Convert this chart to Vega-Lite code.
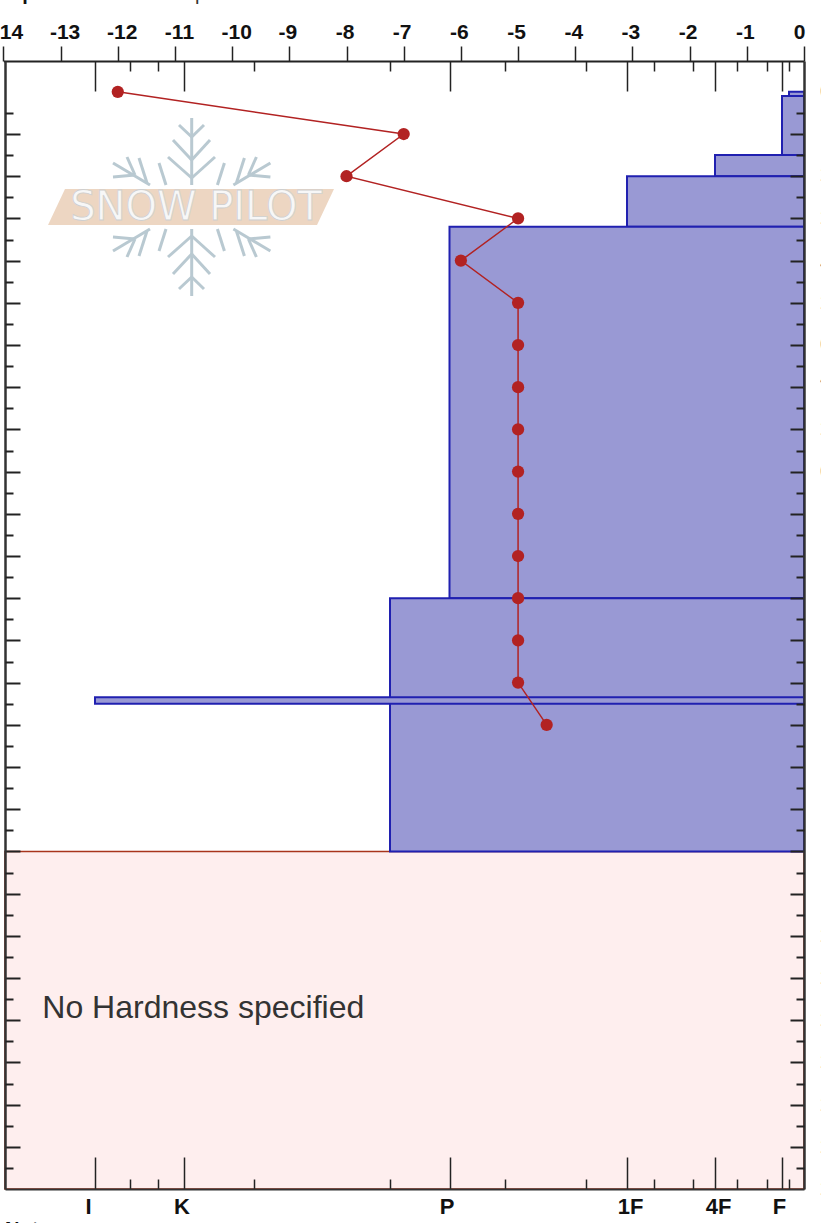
{
"$schema":"https://vega.github.io/schema/vega-lite/v6.json",
"width":799,"height":1128,
"autosize":"none",
"padding":{"left":5,"top":61,"right":17,"bottom":34},
"background":"white",
"config":{"view":{"stroke":null},"font":"Liberation Sans","axis":{"grid":false,"title":null,"labelFontSize":21,"labelFontWeight":"bold","labelFont":"Liberation Sans","labelColor":"#111","labelOverlap":false,"labelBound":false,"labelFlush":false,"tickColor":"#222","domainColor":"#333"}},
"resolve":{"scale":{"x":"independent","y":"independent"},"axis":{"x":"independent","y":"independent"}},
"datasets":{
"layers":[
{"top":260,"bottom":259,"hardness":0.67,"label":"F-"},
{"top":259,"bottom":245,"hardness":1,"label":"F"},
{"top":245,"bottom":240,"hardness":2,"label":"4F"},
{"top":240,"bottom":228,"hardness":3,"label":"1F"},
{"top":228,"bottom":140,"hardness":4,"label":"P"},
{"top":140,"bottom":80,"hardness":4.33,"label":"P+"},
{"top":116.5,"bottom":115,"hardness":6,"label":"I"}],
"temps":[
{"h":260,"t":-12},{"h":250,"t":-7},{"h":240,"t":-8},{"h":230,"t":-5},{"h":220,"t":-6},{"h":210,"t":-5},{"h":200,"t":-5},{"h":190,"t":-5},{"h":180,"t":-5},{"h":170,"t":-5},{"h":160,"t":-5},{"h":150,"t":-5},{"h":140,"t":-5},{"h":130,"t":-5},{"h":120,"t":-5},{"h":110,"t":-4.5}],
"origin":[{"c":0,"h":0,"t":0}],
"flake":[
{"u":191.7,"v":118,"u2":191.7,"v2":185},{"u":191.7,"v":137,"u2":179,"v2":125},{"u":191.7,"v":137,"u2":204,"v2":125},{"u":191.7,"v":160,"u2":173,"v2":140},{"u":191.7,"v":160,"u2":210,"v2":140},{"u":191.7,"v":178,"u2":168,"v2":157},{"u":191.7,"v":178,"u2":215,"v2":157},
{"u":191.7,"v":296,"u2":191.7,"v2":229},{"u":191.7,"v":277,"u2":179,"v2":289},{"u":191.7,"v":277,"u2":204,"v2":289},{"u":191.7,"v":254,"u2":173,"v2":274},{"u":191.7,"v":254,"u2":210,"v2":274},{"u":191.7,"v":236,"u2":168,"v2":257},{"u":191.7,"v":236,"u2":215,"v2":257},
{"u":113,"v":163,"u2":150,"v2":185},{"u":127,"v":157,"u2":135,"v2":175},{"u":113,"v":177,"u2":135,"v2":175},{"u":139,"v":158,"u2":147,"v2":183},{"u":159,"v":163,"u2":166,"v2":185},
{"u":270.4,"v":163,"u2":233.4,"v2":185},{"u":256.4,"v":157,"u2":248.4,"v2":175},{"u":270.4,"v":177,"u2":248.4,"v2":175},{"u":244.4,"v":158,"u2":236.4,"v2":183},{"u":224.4,"v":163,"u2":217.4,"v2":185},
{"u":113,"v":251,"u2":150,"v2":229},{"u":127,"v":257,"u2":135,"v2":239},{"u":113,"v":237,"u2":135,"v2":239},{"u":139,"v":256,"u2":147,"v2":231},{"u":159,"v":251,"u2":166,"v2":229},
{"u":270.4,"v":251,"u2":233.4,"v2":229},{"u":256.4,"v":257,"u2":248.4,"v2":239},{"u":270.4,"v":237,"u2":248.4,"v2":239},{"u":244.4,"v":256,"u2":236.4,"v2":231},{"u":224.4,"v":251,"u2":217.4,"v2":229}],
"edge":[
{"s":"0","h":260,"t":0.28},{"s":"2","h":240.2,"t":0.28},{"s":"2","h":230,"t":0.28},{"s":"4","h":219.5,"t":0.28},{"s":"2","h":210,"t":0.28},{"s":"0","h":200,"t":0.28},{"s":"4","h":192,"t":0.28},{"s":"2","h":180,"t":0.28},{"s":"0","h":170,"t":0.28},
{"s":"2","h":60,"t":0.28},{"s":"2","h":50,"t":0.28},{"s":"2","h":40,"t":0.28},{"s":"2","h":30,"t":0.28},{"s":"2","h":20,"t":0.28},{"s":"2","h":10,"t":0.28},{"s":"2","h":0,"t":0.28}]
},
"layer":[
{"data":{"values":[{"from":7,"to":0,"top":80,"bottom":0}]},
 "mark":{"type":"rect","fill":"#feeeee","stroke":"#a8341c","strokeWidth":1.5},
 "encoding":{
  "x":{"field":"from","type":"quantitative","scale":{"type":"linear","nice":false,"zero":false,"domain":[0,0.67,1,1.33,1.67,2,2.33,2.67,3,3.33,3.67,4,4.33,4.67,5,5.33,5.67,6,7],"range":[799,784,777,762,732,710,688,649,622,581,500,444.5,385,249,178.5,153,125,90,0]},
   "axis":{"zindex":2,"orient":"bottom","values":[0.67,1.33,1.67,2.33,2.67,3.33,3.67,4.33,4.67,5.33,5.67],"labels":false,"tickSize":-10,"tickWidth":1.5,"domain":false}},
  "x2":{"field":"to"},
  "y":{"field":"top","type":"quantitative","scale":{"domain":[0,267.3],"nice":false,"zero":false},"axis":{"zindex":2,"orient":"left","values":[10,20,30,40,50,60,70,80,90,100,110,120,130,140,150,160,170,180,190,200,210,220,230,240,250],"labels":false,"tickSize":-15,"tickWidth":2,"domainWidth":2.5}},
  "y2":{"field":"bottom"}}},
{"data":{"values":[{"s":"No Hardness specified","t":-13.32,"h":42.9}]},
 "mark":{"type":"text","align":"left","baseline":"middle","fontSize":32,"font":"Liberation Sans","color":"#333"},
 "encoding":{"x":{"field":"t","type":"quantitative","scale":{"domain":[-14,0],"range":[-1.6,799],"nice":false,"zero":false},"axis":null},"y":{"field":"h","type":"quantitative","scale":{"domain":[0,267.3],"nice":false,"zero":false},"axis":null},"text":{"field":"s"}}},
{"data":{"values":[{"u1":65,"u2":334,"v":189},{"u1":48,"u2":317,"v":225}]},
 "mark":{"type":"area","orient":"horizontal","color":"#edd6c2"},
 "encoding":{"x":{"field":"u1","type":"quantitative","scale":{"domain":[5,804],"nice":false,"zero":false},"axis":null},"x2":{"field":"u2"},"y":{"field":"v","type":"quantitative","scale":{"domain":[1189,61],"nice":false,"zero":false},"axis":null}}},
{"data":{"name":"flake"},
 "mark":{"type":"rule","color":"#b9c9d1","strokeWidth":3},
 "encoding":{"x":{"field":"u","type":"quantitative","scale":{"domain":[5,804],"nice":false,"zero":false},"axis":null},"x2":{"field":"u2"},"y":{"field":"v","type":"quantitative","scale":{"domain":[1189,61],"nice":false,"zero":false},"axis":null},"y2":{"field":"v2"}}},
{"data":{"values":[{"s":"SNOW PILOT","u":196,"v":208}]},
 "mark":{"type":"text","align":"center","baseline":"middle","fontSize":40,"font":"DejaVu Sans","fill":"#f7f7f7","stroke":"#cfcfcf","strokeWidth":0.8},
 "encoding":{"x":{"field":"u","type":"quantitative","scale":{"domain":[5,804],"nice":false,"zero":false},"axis":null},"y":{"field":"v","type":"quantitative","scale":{"domain":[1189,61],"nice":false,"zero":false},"axis":null},"text":{"field":"s"}}},
{"data":{"name":"layers"},
 "mark":{"type":"rect","fill":"#9999d4","stroke":"#2020b0","strokeWidth":2},
 "encoding":{
  "x":{"field":"hardness","type":"quantitative","scale":{"type":"linear","nice":false,"zero":false,"domain":[0,0.67,1,1.33,1.67,2,2.33,2.67,3,3.33,3.67,4,4.33,4.67,5,5.33,5.67,6,7],"range":[799,784,777,762,732,710,688,649,622,581,500,444.5,385,249,178.5,153,125,90,0]},
   "axis":{"zindex":2,"orient":"bottom","values":[1,2,3,4,5,6],"labelExpr":"datum.value==1?'F':datum.value==2?'4F':datum.value==3?'1F':datum.value==4?'P':datum.value==5?'K':'I'","tickSize":-32,"tickWidth":1.5,"domainWidth":2,"labelFontSize":22,"labelPadding":39,"labelOffset":{"expr":"datum.value==1?-3:datum.value==2?3:datum.value==3?3:datum.value==4?-3:datum.value==5?-2:-7"}}},
  "x2":{"datum":0},
  "y":{"field":"top","type":"quantitative","scale":{"domain":[0,267.3],"nice":false,"zero":false},
   "axis":{"zindex":2,"orient":"left","values":[5,15,25,35,45,55,65,75,85,95,105,115,125,135,145,155,165,175,185,195,205,215,225,235,245,255],"labels":false,"tickSize":-8,"tickWidth":2,"domain":false}},
  "y2":{"field":"bottom"}}},
{"data":{"name":"origin"},"mark":{"type":"point","opacity":0},
 "encoding":{
  "x":{"field":"c","type":"quantitative","scale":{"type":"linear","nice":false,"zero":false,"domain":[0,0.67,1,1.33,1.67,2,2.33,2.67,3,3.33,3.67,4,4.33,4.67,5,5.33,5.67,6,7],"range":[799,784,777,762,732,710,688,649,622,581,500,444.5,385,249,178.5,153,125,90,0]},
   "axis":{"zindex":2,"orient":"top","values":[1,2,3,4,5,6],"labels":false,"tickSize":-30,"tickWidth":1.5,"domain":false}},
  "y":{"field":"h","type":"quantitative","scale":{"domain":[0,267.3],"nice":false,"zero":false},
   "axis":{"zindex":2,"orient":"right","values":[10,20,30,40,50,60,70,80,90,100,110,120,130,140,150,160,170,180,190,200,210,220,230,240,250],"labels":false,"tickSize":-14,"tickWidth":2,"domainWidth":2.5}}}},
{"data":{"name":"origin"},"mark":{"type":"point","opacity":0},
 "encoding":{
  "x":{"field":"c","type":"quantitative","scale":{"type":"linear","nice":false,"zero":false,"domain":[0,0.67,1,1.33,1.67,2,2.33,2.67,3,3.33,3.67,4,4.33,4.67,5,5.33,5.67,6,7],"range":[799,784,777,762,732,710,688,649,622,581,500,444.5,385,249,178.5,153,125,90,0]},
   "axis":{"zindex":2,"orient":"top","values":[0.67,1.33,1.67,2.33,2.67,3.33,3.67,4.33,4.67,5.33,5.67],"labels":false,"tickSize":-10,"tickWidth":1.5,"domain":false}},
  "y":{"field":"h","type":"quantitative","scale":{"domain":[0,267.3],"nice":false,"zero":false},
   "axis":{"zindex":2,"orient":"right","values":[5,15,25,35,45,55,65,75,85,95,105,115,125,135,145,155,165,175,185,195,205,215,225,235,245,255],"labels":false,"tickSize":-8,"tickWidth":2,"domain":false}}}},
{"data":{"name":"temps"},
 "mark":{"type":"line","color":"#b22222","strokeWidth":1.5},
 "encoding":{
  "x":{"field":"t","type":"quantitative","scale":{"domain":[-14,0],"range":[-1.6,799],"nice":false,"zero":false},
   "axis":{"zindex":2,"orient":"top","values":[-14,-13,-12,-11,-10,-9,-8,-7,-6,-5,-4,-3,-2,-1,0],"labelExpr":"'' + datum.value","tickSize":15,"tickWidth":1.5,"domainWidth":2,"domainColor":"#222","labelPadding":4,"labelOffset":{"expr":"datum.value==0?-5:(datum.value<=-10?4:-2)"}}},
  "y":{"field":"h","type":"quantitative","scale":{"domain":[0,267.3],"nice":false,"zero":false},"axis":null},
  "order":{"field":"h","sort":"descending"}}},
{"data":{"name":"temps"},
 "mark":{"type":"point","filled":true,"color":"#b22222","size":150,"opacity":1},
 "encoding":{
  "x":{"field":"t","type":"quantitative","scale":{"domain":[-14,0],"range":[-1.6,799],"nice":false,"zero":false},"axis":null},
  "y":{"field":"h","type":"quantitative","scale":{"domain":[0,267.3],"nice":false,"zero":false},"axis":null}}},
{"data":{"name":"edge"},
 "mark":{"type":"text","align":"left","baseline":"middle","fontSize":20,"color":"#555","opacity":0.8},
 "encoding":{
  "x":{"field":"t","type":"quantitative","scale":{"domain":[-14,0],"range":[-1.6,799],"nice":false,"zero":false},"axis":null},
  "y":{"field":"h","type":"quantitative","scale":{"domain":[0,267.3],"nice":false,"zero":false},"axis":null},
  "text":{"field":"s"}}},
{"data":{"values":[{"s":"Notes","t":-13.97,"h":-7.3}]},
 "mark":{"type":"text","align":"left","baseline":"top","fontSize":20,"fontWeight":"bold","color":"#111"},
 "encoding":{"x":{"field":"t","type":"quantitative","scale":{"domain":[-14,0],"range":[-1.6,799],"nice":false,"zero":false},"axis":null},"y":{"field":"h","type":"quantitative","scale":{"domain":[0,267.3],"nice":false,"zero":false},"axis":null},"text":{"field":"s"}}},
{"data":{"values":[{"s":"p","t":-13.67,"h":281.8}]},
 "mark":{"type":"text","align":"left","baseline":"alphabetic","fontSize":20,"fontWeight":"bold","color":"#111"},
 "encoding":{"x":{"field":"t","type":"quantitative","scale":{"domain":[-14,0],"range":[-1.6,799],"nice":false,"zero":false},"axis":null},"y":{"field":"h","type":"quantitative","scale":{"domain":[0,267.3],"nice":false,"zero":false},"axis":null},"text":{"field":"s"}}},
{"data":{"values":[{"s":"p","t":-10.65,"h":281.8}]},
 "mark":{"type":"text","align":"left","baseline":"alphabetic","fontSize":20,"color":"#333"},
 "encoding":{"x":{"field":"t","type":"quantitative","scale":{"domain":[-14,0],"range":[-1.6,799],"nice":false,"zero":false},"axis":null},"y":{"field":"h","type":"quantitative","scale":{"domain":[0,267.3],"nice":false,"zero":false},"axis":null},"text":{"field":"s"}}}
]
}
